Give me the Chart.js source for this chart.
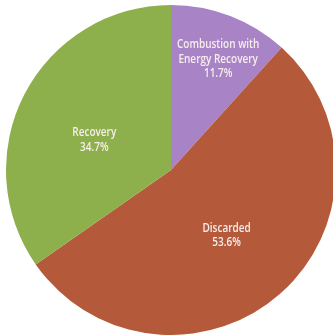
<!DOCTYPE html>
<html>
<head>
<meta charset="utf-8">
<script src="https://cdn.jsdelivr.net/npm/chart.js@4"></script>
<style>
  html, body { margin: 0; padding: 0; background: #fff; overflow: hidden; }
  body { width: 333px; height: 335px; position: relative; }
  #wrap { position: absolute; left: 6px; top: 5px; width: 330px; height: 330px; }
</style>
</head>
<body>
<div id="wrap"><canvas id="pie"></canvas></div>
<script>
const categories = ['Combustion with Energy Recovery', 'Discarded', 'Recovery'];
const labelLines = [['Combustion with', 'Energy Recovery'], ['Discarded'], ['Recovery']];
const shares = [11.7, 53.6, 34.7];
const colors = ['#a883c6', '#b45a3b', '#8db04c'];

// label placement: fraction of the radius, and a small turn (degrees) off the slice middle
const labelRadius = [0.73, 0.52, 0.5];
const labelTurn = [2, 1, -6];

const sliceLabels = {
    id: 'sliceLabels',
    afterDatasetsDraw(chart) {
        const ctx = chart.ctx;
        const arcs = chart.getDatasetMeta(0).data;
        ctx.save();
        ctx.fillStyle = '#f7eeec';
        ctx.font = "600 12.5px 'Open Sans', sans-serif";
        ctx.textAlign = 'center';
        ctx.textBaseline = 'middle';
        arcs.forEach((arc, i) => {
            const mid = (arc.startAngle + arc.endAngle) / 2 + labelTurn[i] * Math.PI / 180;
            const r = arc.outerRadius * labelRadius[i];
            const x = arc.x + Math.cos(mid) * r;
            const y = arc.y + Math.sin(mid) * r;
            const lines = labelLines[i].concat([shares[i].toFixed(1) + '%']);
            const lh = 14.5;
            const top = y - (lines.length - 1) * lh / 2;
            ctx.save();
            ctx.translate(x, top);
            ctx.scale(0.8, 1); // narrow the face to a condensed look
            lines.forEach((t, j) => ctx.fillText(t, 0, j * lh));
            ctx.restore();
        });
        ctx.restore();
    }
};

new Chart(document.getElementById('pie'), {
    type: 'pie',
    data: {
        labels: categories,
        datasets: [{
            data: shares,
            backgroundColor: colors,
            borderWidth: 0
        }]
    },
    options: {
        responsive: true,
        maintainAspectRatio: false,
        animation: false,
        layout: { padding: 0 },
        plugins: {
            legend: { display: false },
            tooltip: { enabled: false }
        }
    },
    plugins: [sliceLabels]
});
</script>
</body>
</html>
